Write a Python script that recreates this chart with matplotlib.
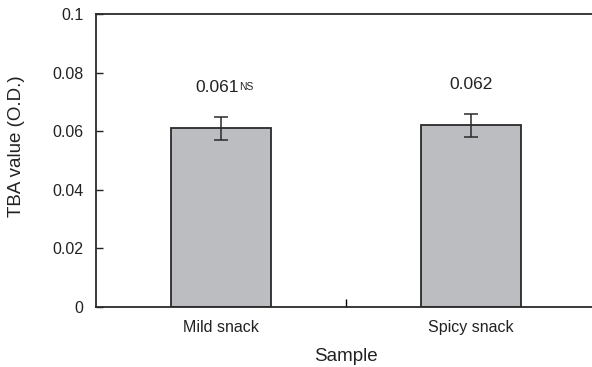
import matplotlib.pyplot as plt

samples = ['Mild snack', 'Spicy snack']
tba = [0.061, 0.062]
errors = [0.004, 0.004]
bar_labels = ['0.061', '0.062']
bar_marks = ['NS', '']

plt.rcParams['font.family'] = ['Liberation Sans', 'DejaVu Sans']
ink = '#222222'

fig = plt.figure(figsize=(5.92, 3.67), dpi=100)
ax = fig.add_axes([96 / 592, 1 - 307 / 367, 500 / 592, 293 / 367])

x = list(range(len(samples)))
ax.bar(x, tba, width=0.4, color='#bcbdc0', edgecolor='#2a2a2a', linewidth=1.3,
       yerr=errors, capsize=5, error_kw={'elinewidth': 1.1, 'capthick': 1.1, 'ecolor': '#2a2a2a'})

# value labels above the error bars, NS as a small superscript
for xi, v, e, lab, mark in zip(x, tba, errors, bar_labels, bar_marks):
    shift = -3 if mark else 0
    t = ax.annotate(lab, xy=(xi, v + e + 0.0085), xytext=(shift, 0), textcoords='offset points',
                    ha='center', va='baseline', fontsize=12.5, color=ink)
    if mark:
        ax.annotate(mark, xy=(1, 1), xycoords=t, xytext=(0.5, -1.5), textcoords='offset points',
                    ha='left', va='top', fontsize=7.5, color=ink)

ax.set_xlim(-0.5, 1.5)
ax.set_ylim(0, 0.1)
ax.set_yticks([0, 0.02, 0.04, 0.06, 0.08, 0.1])
ax.set_yticklabels(['0', '0.02', '0.04', '0.06', '0.08', '0.1'])
ax.set_xticks([0.5])
ax.set_xticklabels([''])
for xi, s in zip(x, samples):
    ax.text(xi, -0.0045, s, ha='center', va='top', fontsize=11.5, color=ink)

ax.tick_params(axis='y', direction='in', length=5, width=1, labelsize=11.5, pad=9, colors=ink)
ax.tick_params(axis='x', direction='in', length=6, width=1)
for side in ['left', 'bottom', 'top']:
    ax.spines[side].set_linewidth(1.3)
    ax.spines[side].set_color('#2a2a2a')
ax.spines['right'].set_visible(False)

ax.set_ylabel('TBA value (O.D.)', fontsize=13.5, color=ink)
ax.yaxis.set_label_coords(-0.142, 0.55)
ax.set_xlabel('Sample', fontsize=13.5, labelpad=26, color=ink)

fig.savefig('out.png', dpi=100)
